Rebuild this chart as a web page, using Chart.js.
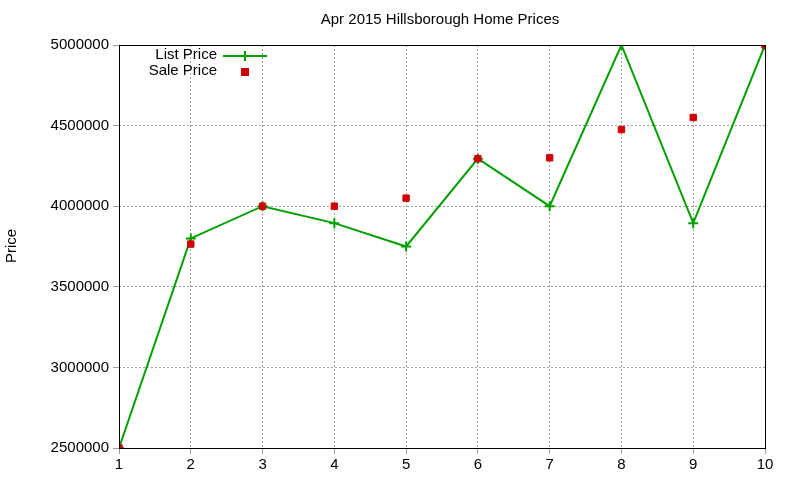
<!DOCTYPE html>
<html><head><script src="https://cdn.jsdelivr.net/npm/chart.js"></script>
<style>body{margin:0;background:#fff}</style></head><body>
<canvas id="c" width="800" height="480"></canvas>
<script>
const categories=[1,2,3,4,5,6,7,8,9,10];
const listPrice=[2500000,3800000,4000000,3895000,3750000,4295000,4000000,5000000,3895000,5000000];
const salePrice=[2500000,3765000,4000000,4000000,4050000,4295000,4300000,4475000,4550000,5000000];
const FONT='"Liberation Sans", Arial, sans-serif';
const overlay={id:'overlay',afterDraw(ch){const c=ch.ctx,a=ch.chartArea;c.save();
c.strokeStyle='#000';c.lineWidth=1;c.strokeRect(a.left+0.5,a.top+0.5,a.right-a.left,a.bottom-a.top);
c.fillStyle='#000';c.font='15px '+FONT;c.textAlign='center';c.textBaseline='middle';
c.fillText('Apr 2015 Hillsborough Home Prices',440,20);
c.save();c.translate(12,246);c.rotate(-Math.PI/2);c.fillText('Price',0,0);c.restore();
c.textAlign='right';c.fillText('List Price',217,55);c.fillText('Sale Price',217,71);
c.strokeStyle='#00a000';c.lineWidth=2;c.beginPath();c.moveTo(223,56);c.lineTo(267,56);c.stroke();
c.beginPath();c.moveTo(245,51);c.lineTo(245,61);c.moveTo(240,56);c.lineTo(250,56);c.stroke();
c.fillStyle='#d00000';c.fillRect(241,68,8,8);c.restore();}};
new Chart(document.getElementById('c'),{type:'scatter',
data:{datasets:[
{label:'List Price',data:categories.map((x,i)=>({x,y:listPrice[i]})),showLine:true,borderColor:'#00a000',borderWidth:2,pointStyle:'cross',pointRadius:5,pointBorderWidth:2,pointBorderColor:'#00a000',order:2},
{label:'Sale Price',data:categories.map((x,i)=>({x,y:salePrice[i]})),showLine:false,pointStyle:'rect',pointRadius:4.5,backgroundColor:'#d00000',borderColor:'#d00000',order:1}]},
options:{responsive:false,devicePixelRatio:1,animation:false,
layout:{padding:{top:45,right:35,left:0,bottom:0}},
plugins:{legend:{display:false},tooltip:{enabled:false}},
scales:{
x:{type:'linear',min:1,max:10,afterFit(s){s.height=32;},
ticks:{stepSize:1,color:'#000',font:{size:15,family:FONT},padding:2},
grid:{color:'#a0a0a0',lineWidth:1,tickLength:6,drawTicks:true},border:{display:false,dash:[2,2]}},
y:{min:2500000,max:5000000,afterFit(s){s.width=119;},
ticks:{stepSize:500000,color:'#000',font:{size:15,family:FONT},padding:4,callback:v=>String(v)},
grid:{color:'#a0a0a0',tickLength:6},border:{display:false,dash:[2,2]}}}},
plugins:[overlay]});
</script></body></html>
